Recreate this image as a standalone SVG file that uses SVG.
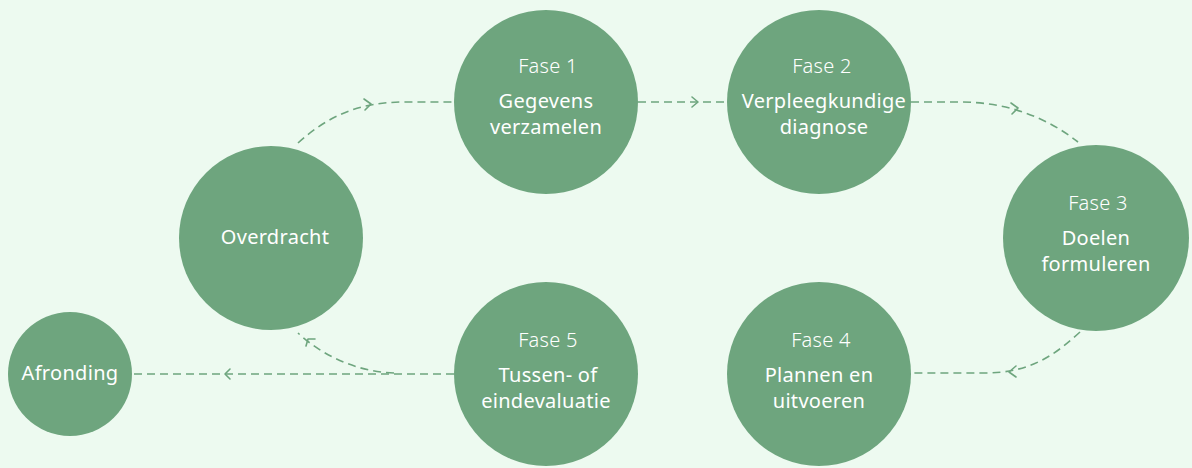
<svg xmlns="http://www.w3.org/2000/svg" width="1192" height="468" viewBox="0 0 1192 468">
<defs>
<style>
.n{fill:#6ea57e}
.t{font-family:"Noto Sans","Open Sans",sans-serif;fill:#ffffff;text-anchor:middle;font-size:20px}
.ph{font-weight:300;letter-spacing:0.3px}
.lb{font-weight:450;letter-spacing:0.3px}
.c{fill:none;stroke:#6ea57e;stroke-width:1.6;stroke-dasharray:8 5}
.h{fill:none;stroke:#6ea57e;stroke-width:1.6;stroke-linecap:round;stroke-linejoin:round}
</style>
</defs>
<rect width="1192" height="468" fill="#edfaf0"/>
<g id="connectors">
<path class="c" d="M298,143 C330,114 362,102 405,102 L454,102"/>
<path class="h" d="M364,99 L371,104 L365,110"/>
<path class="c" d="M638,102 L727,102"/>
<path class="h" d="M692,97 L698,102 L692,107"/>
<path class="c" d="M911,102 L960,102 C1005,102 1045,116 1078,142"/>
<path class="h" d="M1011,103 L1018,108 L1012,114"/>
<path class="c" d="M1080,332 C1055,355 1030,373 985,373 L911,373"/>
<path class="h" d="M1016,366 L1009,372 L1016,377"/>
<path class="c" d="M454,374 L132,374"/>
<path class="h" d="M230,369 L225,374 L230,379"/>
<path class="c" d="M394,373 C360,372 325,358 298,333"/>
<path class="h" d="M306,346 L308,339 L315,339"/>
</g>
<g id="fase1"><circle class="n" cx="546" cy="102" r="92"/><text class="t ph" x="548" y="73">Fase 1</text><text class="t lb" x="546" y="108">Gegevens</text><text class="t lb" x="546" y="134">verzamelen</text></g>
<g id="fase2"><circle class="n" cx="819" cy="102" r="92"/><text class="t ph" x="822" y="73">Fase 2</text><text class="t lb" x="824" y="108">Verpleegkundige</text><text class="t lb" x="824" y="134">diagnose</text></g>
<g id="fase3"><circle class="n" cx="1096" cy="238" r="93"/><text class="t ph" x="1098" y="210">Fase 3</text><text class="t lb" x="1096" y="245">Doelen</text><text class="t lb" x="1096" y="271">formuleren</text></g>
<g id="fase4"><circle class="n" cx="819" cy="374" r="92"/><text class="t ph" x="821" y="347">Fase 4</text><text class="t lb" x="819" y="382">Plannen en</text><text class="t lb" x="819" y="408">uitvoeren</text></g>
<g id="fase5"><circle class="n" cx="546" cy="374" r="92"/><text class="t ph" x="548" y="347">Fase 5</text><text class="t lb" x="548" y="382">Tussen- of</text><text class="t lb" x="546" y="408">eindevaluatie</text></g>
<g id="overdracht"><circle class="n" cx="271" cy="238" r="92"/><text class="t lb" x="275" y="244">Overdracht</text></g>
<g id="afronding"><circle class="n" cx="70" cy="374" r="62"/><text class="t lb" x="70" y="380">Afronding</text></g>
</svg>
